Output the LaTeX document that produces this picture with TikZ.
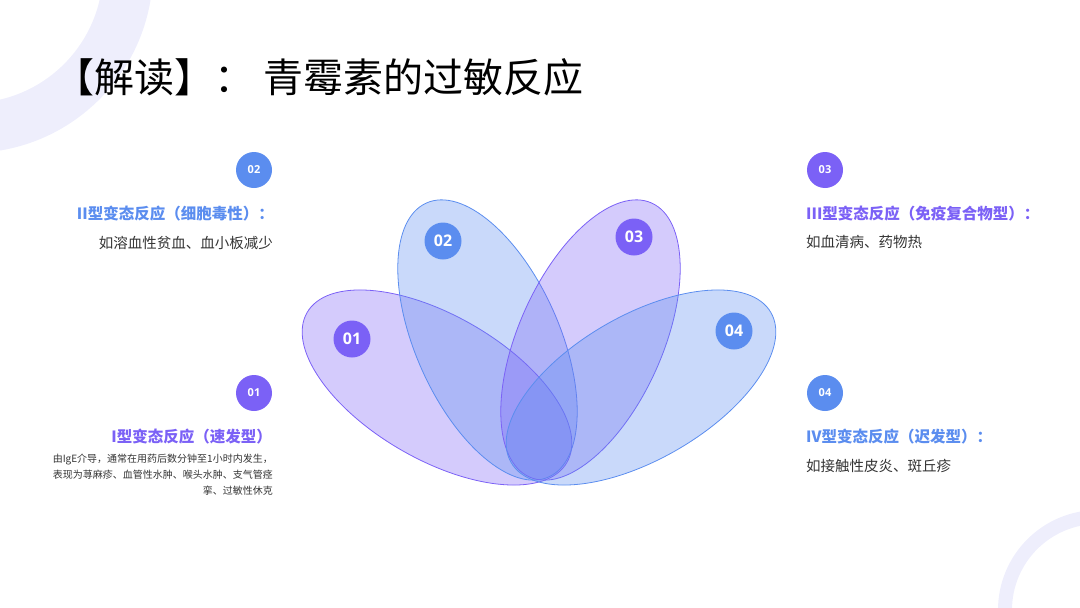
\documentclass[tikz,border=0pt]{standalone}
\usepackage{fontspec}
\setmainfont{Noto Sans CJK SC}
\newfontfamily\numfont{Open Sans}
\definecolor{pur}{HTML}{7B61F6}
\definecolor{blu}{HTML}{5B8DEF}
\definecolor{ringc}{HTML}{EEEEFC}
\definecolor{txt}{HTML}{333333}
\tikzset{
  petal/.style={line width=0.8pt, fill opacity=0.33},
  bignum/.style={circle, minimum size=37pt, inner sep=0pt, text=white,
     font=\numfont\bfseries\fontsize{16}{16}\selectfont},
  smallnum/.style={circle, minimum size=36pt, inner sep=0pt, text=white,
     font=\numfont\bfseries\fontsize{11}{11}\selectfont},
  head/.style={inner sep=0pt, font=\bfseries\fontsize{15.5}{18}\selectfont},
  body/.style={inner sep=0pt, text=txt, font=\fontsize{14.5}{18}\selectfont},
}
\begin{document}
\begin{tikzpicture}[x=1pt,y=-1pt]
\useasboundingbox (0,0) rectangle (1080,608);
\begin{scope}
  \clip (0,0) rectangle (1080,608);
  \fill[ringc, even odd rule] (-30,-30) circle (183pt) (-30,-30) circle (133pt);
  \fill[ringc, even odd rule] (1098,610) circle (100pt) (1098,610) circle (86pt);
\end{scope}

\node[anchor=west, inner sep=0pt] (title) at (54,77)
  {\fontsize{40}{44}\selectfont 【解读】： 青霉素的过敏反应};

% petals
\begin{scope}[shift={(437,387.5)}, rotate=150]
  \draw[petal, draw=pur, fill=pur] (0,0) ellipse [x radius=150pt, y radius=72pt];
\end{scope}
\begin{scope}[shift={(487.5,340)}, rotate=114]
  \draw[petal, draw=blu, fill=blu] (0,0) ellipse [x radius=150pt, y radius=72pt];
\end{scope}
\begin{scope}[shift={(590.5,340)}, rotate=66]
  \draw[petal, draw=pur, fill=pur] (0,0) ellipse [x radius=150pt, y radius=72pt];
\end{scope}
\begin{scope}[shift={(641,387.5)}, rotate=30]
  \draw[petal, draw=blu, fill=blu] (0,0) ellipse [x radius=150pt, y radius=72pt];
\end{scope}

\node[bignum, fill=pur] (p1) at (352,339) {01};
\node[bignum, fill=blu] (p2) at (443,241) {02};
\node[bignum, fill=pur] (p3) at (634,237) {03};
\node[bignum, fill=blu] (p4) at (734,331) {04};

% left side
\node[smallnum, fill=blu] (n2) at (254,170) {02};
\node[head, text=blu, anchor=east] (h2) at (274,214) {II型变态反应（细胞毒性）：};
\node[body, anchor=east] (b2) at (273,243) {如溶血性贫血、血小板减少};

\node[smallnum, fill=pur] (n1) at (254,393) {01};
\node[head, text=pur, anchor=east] (h1) at (272,437) {I型变态反应（速发型）};
\node[inner sep=0pt, text=txt, align=right, anchor=north east,
      font=\fontsize{10}{16}\selectfont] (b1) at (273,454)
  {由IgE介导，通常在用药后数分钟至1小时内发生，\\表现为荨麻疹、血管性水肿、喉头水肿、支气管痉\\挛、过敏性休克};

% right side
\node[smallnum, fill=pur] (n3) at (825,170) {03};
\node[head, text=pur, anchor=west] (h3) at (806,214) {III型变态反应（免疫复合物型）：};
\node[body, anchor=west] (b3) at (806,242) {如血清病、药物热};

\node[smallnum, fill=blu] (n4) at (825,393) {04};
\node[head, text=blu, anchor=west] (h4) at (806,437) {IV型变态反应（迟发型）：};
\node[body, anchor=west] (b4) at (806,466) {如接触性皮炎、斑丘疹};
\end{tikzpicture}
\end{document}
